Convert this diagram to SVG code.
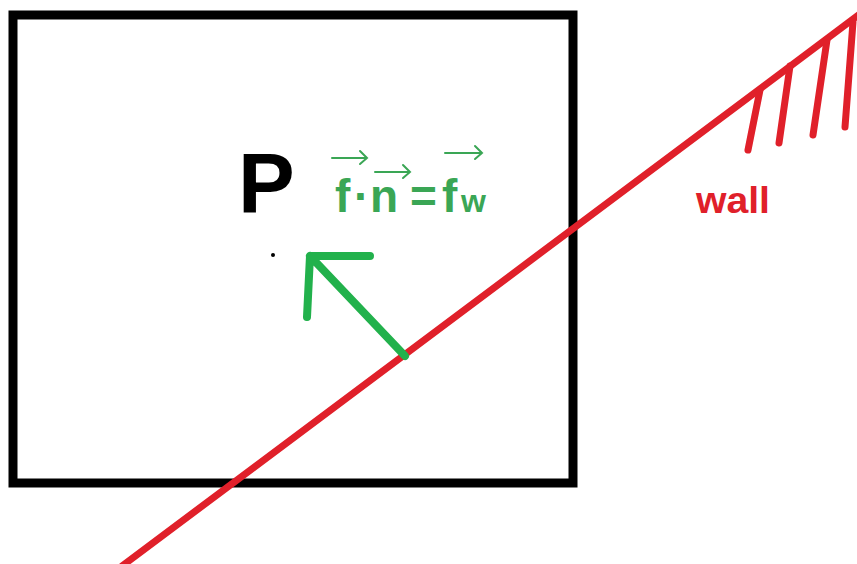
<svg xmlns="http://www.w3.org/2000/svg" width="857" height="564" viewBox="0 0 857 564">
<style>
.red{stroke:#e0202a;stroke-width:7;stroke-linecap:round;fill:none}
.grn{stroke:#22b14c;stroke-width:8;stroke-linecap:round;stroke-linejoin:round;fill:none}
.vec{stroke:#3aa655;stroke-width:2;fill:none;stroke-linecap:round}
.gt{font-family:"Liberation Sans",Arial,sans-serif;font-weight:bold;fill:#3aa655}
</style>
<rect width="857" height="564" fill="#fff"/>
<g id="box"><rect x="13" y="15" width="560" height="468" fill="none" stroke="#000" stroke-width="9"/></g>
<g id="wall">
<line class="red" x1="122" y1="566" x2="860" y2="14"/>
<line class="red" x1="760" y1="90" x2="748" y2="150"/>
<line class="red" x1="790" y1="66" x2="779" y2="143"/>
<line class="red" x1="827" y1="40" x2="813" y2="135"/>
<line class="red" x1="853" y1="22" x2="845" y2="127"/>
<text x="696" y="213" font-family="Liberation Sans,Arial,sans-serif" font-weight="bold" font-size="36" fill="#e0202a" textLength="74" lengthAdjust="spacingAndGlyphs">wall</text>
</g>
<g id="point">
<text x="238" y="213" font-family="Liberation Sans,Arial,sans-serif" font-weight="bold" font-size="85" fill="#000">P</text>
<circle cx="273" cy="255" r="2" fill="#000"/>
</g>
<g id="equation">
<text class="gt" x="335" y="212" font-size="46">f</text>
<text class="gt" x="354" y="212" font-size="46">·</text>
<text class="gt" x="370" y="212" font-size="46">n</text>
<text class="gt" x="410" y="212" font-size="46">=</text>
<text class="gt" x="442" y="212" font-size="46">f</text>
<text class="gt" x="461" y="212" font-size="32">w</text>
<path class="vec" d="M332 158H367M360 151L367 158L360 164"/>
<path class="vec" d="M375 172H410M403 165L410 172L403 178"/>
<path class="vec" d="M445 153H482M475 146L482 153L475 159"/>
</g>
<g id="connectors">
<path class="grn" d="M405 356L310 256M370 256H310L307 317"/>
</g>
</svg>
